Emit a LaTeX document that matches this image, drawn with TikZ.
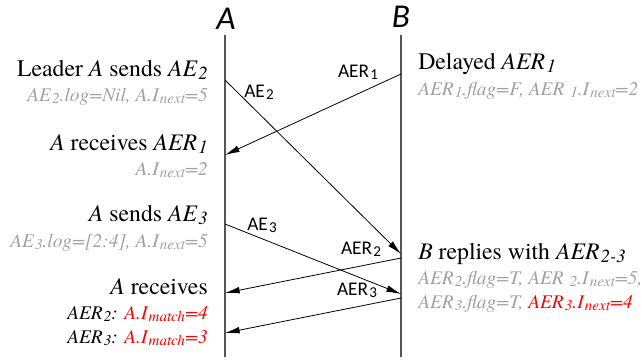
\documentclass[tikz,border=0pt]{standalone}
\usepackage{fontspec}
\newfontfamily\notefont{texgyretermes}[Extension=.otf, UprightFont=*-regular, ItalicFont=*-italic, BoldFont=*-bold]
\newfontfamily\labelfont{Carlito}
\usetikzlibrary{arrows.meta}
\definecolor{lifegray}{HTML}{555555}
\definecolor{notegray}{HTML}{A0A0A0}
\definecolor{hot}{HTML}{FF0000}
% lowered, slightly reduced index text
\newcommand{\sbs}[1]{\kern0.06em\raisebox{-0.32ex}{\scalebox{0.78}{#1}}}
\tikzset{
  lifeline/.style={draw=lifegray, line width=1.1pt},
  msg/.style={draw=black, line width=0.6pt, -{Latex[length=11pt,width=5pt]}},
  head/.style={font=\labelfont\itshape\fontsize{25}{28}\selectfont, inner sep=0pt, anchor=base},
  msglabel/.style={font=\labelfont\fontsize{14.5}{16}\selectfont, inner sep=0pt, anchor=base},
  lefttitle/.style={font=\notefont\fontsize{17.8}{19}\selectfont, inner sep=0pt, anchor=base east},
  leftnote/.style={font=\notefont\itshape\fontsize{14.5}{16}\selectfont, text=notegray, inner sep=0pt, anchor=base east},
  righttitle/.style={font=\notefont\fontsize{17.8}{19}\selectfont, inner sep=0pt, anchor=base west},
  rightnote/.style={font=\notefont\itshape\fontsize{14.5}{16}\selectfont, text=notegray, inner sep=0pt, anchor=base west},
}
\begin{document}
\begin{tikzpicture}[x=0.75pt, y=-0.75pt]
\useasboundingbox (0,0) rectangle (642,362);

% lifelines
\node[head] (hA) at (226,29) {A};
\node[head] (hB) at (401,27) {B};
\coordinate (a0) at (225,35);
\coordinate (a1) at (225,357);
\coordinate (b0) at (401,35);
\coordinate (b1) at (401,357);
\draw[lifeline] (a0) -- (a1);
\draw[lifeline] (b0) -- (b1);

% message end points on the lifelines
\coordinate (ae2s) at (225,80);
\coordinate (ae2e) at (401,254);
\coordinate (aer1s) at (401,74);
\coordinate (aer1e) at (225,155);
\coordinate (ae3s) at (225,224);
\coordinate (ae3e) at (401,294);
\coordinate (aer2s) at (401,258);
\coordinate (aer2e) at (225,293);
\coordinate (aer3s) at (401,298);
\coordinate (aer3e) at (225,333);

% messages
\draw[msg] (ae2s) -- (ae2e);
\draw[msg] (aer1s) -- (aer1e);
\draw[msg] (ae3s) -- (ae3e);
\draw[msg] (aer2s) -- (aer2e);
\draw[msg] (aer3s) -- (aer3e);

\node[msglabel] (lAER1) at (358,77) {AER\sbs{1}};
\node[msglabel] (lAE2) at (259,97) {AE\sbs{2}};
\node[msglabel] (lAE3) at (262,230) {AE\sbs{3}};
\node[msglabel] (lAER2) at (361,254) {AER\sbs{2}};
\node[msglabel] (lAER3) at (357,295) {AER\sbs{3}};

% notes on the side of A
\node[lefttitle] (t1) at (208,76) {Leader \textit{A} sends \textit{AE\sbs{2}}};
\node[leftnote] (n1) at (208,101) {AE\sbs{2}.log=Nil, A.I\sbs{next}=5};
\node[lefttitle] (t2) at (208,150) {\textit{A} receives \textit{AER\sbs{1}}};
\node[leftnote] (n2) at (208,175) {A.I\sbs{next}=2};
\node[lefttitle] (t3) at (208,221) {\textit{A} sends \textit{AE\sbs{3}}};
\node[leftnote] (n3) at (208,247) {AE\sbs{3}.log=[2:4], A.I\sbs{next}=5};
\node[lefttitle] (t4) at (208,294) {\textit{A} receives};
\node[leftnote, text=black] (n4) at (208,319) {AER\sbs{2}: \textcolor{hot}{A.I\sbs{match}=4}};
\node[leftnote, text=black] (n5) at (208,343) {AER\sbs{3}: \textcolor{hot}{A.I\sbs{match}=3}};

% notes on the side of B
\node[righttitle] (t5) at (418,69) {Delayed \textit{AER\sbs{1}}};
\node[rightnote] (n6) at (418,95) {AER\sbs{1}.flag=F, AER \sbs{1}.I\sbs{next}=2};
\node[righttitle] (t6) at (418,259) {\textit{B} replies with \textit{AER\sbs{2-3}}};
\node[rightnote] (n7) at (418,284) {AER\sbs{2}.flag=T, AER \sbs{2}.I\sbs{next}=5,};
\node[rightnote] (n8) at (418,308) {AER\sbs{3}.flag=T, \textcolor{hot}{AER\sbs{3}.I\sbs{next}=4}};
\end{tikzpicture}
\end{document}
